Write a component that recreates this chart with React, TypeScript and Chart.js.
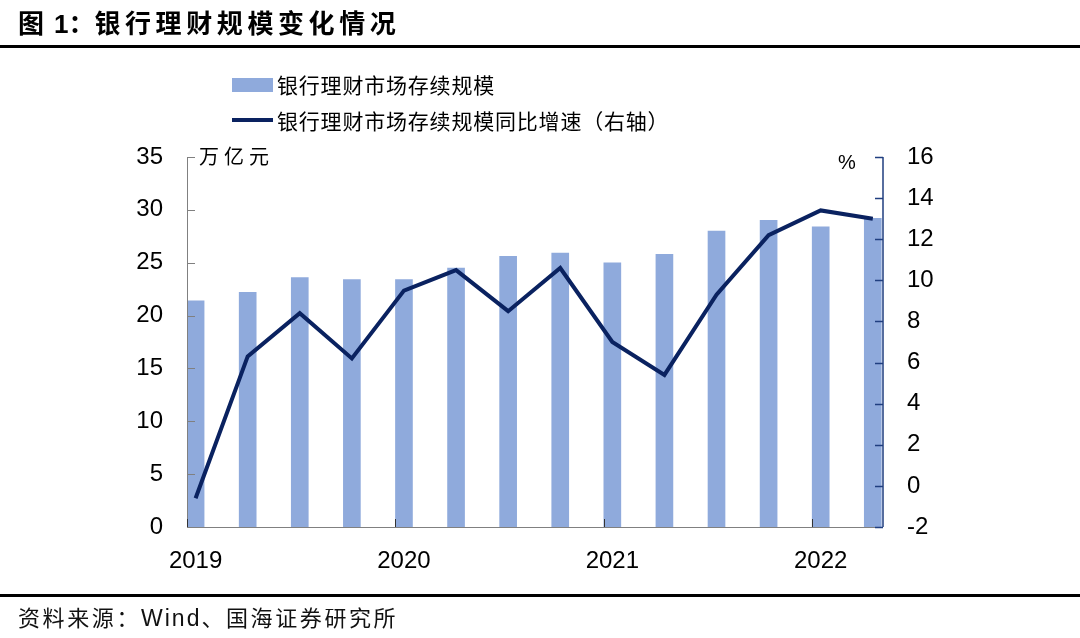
import React, { useEffect, useRef } from 'react';
import { Chart, registerables } from 'chart.js';

Chart.register(...registerables);

// ---- data ----
const quarters = ['2019Q1', '2019Q2', '2019Q3', '2019Q4', '2020Q1', '2020Q2', '2020Q3', '2020Q4', '2021Q1', '2021Q2', '2021Q3', '2021Q4', '2022Q1', '2022Q2'];
const scaleValues = [21.4, 22.2, 23.6, 23.4, 23.4, 24.5, 25.6, 25.9, 25.0, 25.8, 28.0, 29.0, 28.4, 29.2];
const yoyValues = [-0.6, 6.3, 8.4, 6.2, 9.5, 10.5, 8.5, 10.6, 7.0, 5.4, 9.3, 12.2, 13.4, 13.0];
const yearLabels = ['2019', '2020', '2021', '2022'];
const leftAxis = { min: 0, max: 35, step: 5 };
const rightAxis = { min: -2, max: 16, step: 2 };

const barName = '银行理财市场存续规模';
const lineName = '银行理财市场存续规模同比增速（右轴）';

const BAR_COLOR = '#8FAADC';
const LINE_COLOR = '#0A2260';
const RIGHT_AXIS_COLOR = '#203F80';
const GRAY = '#808080';
const TICK_FONT = '"Liberation Sans", Arial, sans-serif';
const CJK_FONT = '"Noto Sans CJK SC", "Liberation Sans", sans-serif';

const X_PAD = 0.165; // axis starts slightly before first bar centre

const axisPlugin = {
  id: 'axisDraw',
  afterDatasetsDraw(chart: any) {
    const { ctx, chartArea, scales } = chart;
    const { left, right, top, bottom } = chartArea;
    const y = scales.y;
    const y1 = scales.y1;
    const x = scales.x;
    ctx.save();
    // left axis
    ctx.strokeStyle = GRAY;
    ctx.lineWidth = 1;
    ctx.beginPath();
    ctx.moveTo(left + 0.5, top);
    ctx.lineTo(left + 0.5, bottom);
    y.ticks.forEach((t: any) => {
      const py = Math.round(y.getPixelForValue(t.value)) + 0.5;
      ctx.moveTo(left, py);
      ctx.lineTo(left + 8, py);
    });
    ctx.stroke();
    // bottom axis
    ctx.strokeStyle = GRAY;
    ctx.beginPath();
    ctx.moveTo(left, bottom + 0.5);
    ctx.lineTo(right, bottom + 0.5);
    ctx.stroke();
    ctx.strokeStyle = '#333333';
    ctx.beginPath();
    x.ticks.forEach((t: any) => {
      const px = Math.round(x.getPixelForValue(t.value - X_PAD)) + 0.5;
      ctx.moveTo(px, bottom);
      ctx.lineTo(px, bottom - 8);
    });
    ctx.stroke();
    // right axis
    ctx.strokeStyle = RIGHT_AXIS_COLOR;
    ctx.lineWidth = 1.5;
    ctx.beginPath();
    ctx.moveTo(right, top);
    ctx.lineTo(right, bottom);
    y1.ticks.forEach((t: any) => {
      const py = Math.round(y1.getPixelForValue(t.value)) + 0.5;
      ctx.moveTo(right - 8, py);
      ctx.lineTo(right, py);
    });
    ctx.stroke();
    ctx.restore();
  },
};

export default function App() {
  const canvasRef = useRef<HTMLCanvasElement | null>(null);

  useEffect(() => {
    document.body.style.margin = '0';
    const canvas = canvasRef.current;
    if (!canvas) return;
    const yearIdx = quarters.map((q, i) => (q.endsWith('Q1') ? i : -1)).filter((i) => i >= 0);
    const chart = new Chart(canvas, {
      type: 'bar',
      data: {
        datasets: [
          {
            type: 'line',
            label: lineName,
            data: yoyValues.map((v, i) => ({ x: i, y: v })),
            yAxisID: 'y1',
            xAxisID: 'x',
            borderColor: LINE_COLOR,
            backgroundColor: LINE_COLOR,
            borderWidth: 4,
            pointRadius: 0,
            tension: 0,
            order: 0,
          } as any,
          {
            type: 'bar',
            label: barName,
            data: scaleValues.map((v, i) => ({ x: i, y: v })),
            yAxisID: 'y',
            xAxisID: 'x',
            backgroundColor: BAR_COLOR,
            borderWidth: 0,
            barThickness: 17,
            order: 1,
          } as any,
        ],
      },
      options: {
        responsive: false,
        animation: false,
        devicePixelRatio: window.devicePixelRatio || 1,
        layout: { padding: { left: 0, right: 0, top: 157, bottom: 61 } },
        plugins: { legend: { display: false }, tooltip: { enabled: false } },
        scales: {
          x: {
            type: 'linear',
            offset: false,
            min: -X_PAD,
            max: quarters.length - 1 + 0.196,
            grid: { display: false },
            border: { display: false },
            afterBuildTicks: (scale: any) => {
              scale.ticks = yearIdx.map((i) => ({ value: i }));
            },
            afterFit: (scale: any) => {
              scale.height = 50;
            },
            ticks: {
              autoSkip: false,
              maxRotation: 0,
              padding: 12,
              color: '#000000',
              font: { family: TICK_FONT, size: 24 },
              callback: (value: any) => {
                const k = yearIdx.indexOf(Math.round(Number(value)));
                return k >= 0 ? yearLabels[k] : '';
              },
            },
          },
          y: {
            type: 'linear',
            position: 'left',
            min: leftAxis.min,
            max: leftAxis.max,
            grid: { display: false },
            border: { display: false },
            afterFit: (scale: any) => {
              scale.width = 187;
            },
            ticks: {
              stepSize: leftAxis.step,
              padding: 16,
              color: '#000000',
              font: { family: TICK_FONT, size: 24 },
            },
          },
          y1: {
            type: 'linear',
            position: 'right',
            min: rightAxis.min,
            max: rightAxis.max,
            grid: { display: false },
            border: { display: false },
            afterFit: (scale: any) => {
              scale.width = 197;
            },
            ticks: {
              stepSize: rightAxis.step,
              padding: 16,
              color: '#000000',
              font: { family: TICK_FONT, size: 24 },
            },
          },
        },
      } as any,
      plugins: [axisPlugin],
    });
    return () => chart.destroy();
  }, []);

  const abs = (o: React.CSSProperties): React.CSSProperties => ({ position: 'absolute', whiteSpace: 'nowrap', ...o });

  return (
    <div style={{ position: 'absolute', left: 0, top: 0, width: 1080, height: 638, background: '#ffffff', overflow: 'hidden' }}>
      <canvas ref={canvasRef} width={1080} height={638} style={{ position: 'absolute', left: 0, top: 0, width: 1080, height: 638 }} />
      {/* title */}
      <div style={abs({ left: 18, top: 5, fontFamily: CJK_FONT, fontWeight: 700, fontSize: 26, lineHeight: '34px', color: '#000' })}>
        <span style={{ letterSpacing: 2 }}>图 </span>
        <span style={{ fontFamily: TICK_FONT }}>1</span>
        <span>：</span>
        <span style={{ letterSpacing: 4.6 }}>银行理财规模变化情况</span>
      </div>
      <div style={abs({ left: 0, top: 45, width: 1080, height: 3, background: '#000' })} />
      {/* legend */}
      <div style={abs({ left: 232, top: 78, width: 41, height: 14, background: BAR_COLOR })} />
      <div style={abs({ left: 277, top: 69, fontFamily: CJK_FONT, fontSize: 21, lineHeight: '30px', letterSpacing: 0.8, color: '#000' })}>{barName}</div>
      <div style={abs({ left: 232, top: 118, width: 41, height: 4, background: LINE_COLOR })} />
      <div style={abs({ left: 277, top: 105, fontFamily: CJK_FONT, fontSize: 21, lineHeight: '30px', letterSpacing: 0.8, color: '#000' })}>{lineName}</div>
      {/* unit labels */}
      <div style={abs({ left: 199, top: 142, fontFamily: CJK_FONT, fontSize: 20, lineHeight: '28px', letterSpacing: 5, color: '#000' })}>万亿元</div>
      <div style={abs({ left: 838, top: 149, fontFamily: TICK_FONT, fontSize: 20, lineHeight: '26px', color: '#000' })}>%</div>
      {/* footer */}
      <div style={abs({ left: 0, top: 594, width: 1080, height: 3, background: '#000' })} />
      <div style={abs({ left: 18, top: 601, fontFamily: CJK_FONT, fontSize: 22, lineHeight: '30px', letterSpacing: 2.6, color: '#111' })}>
        资料来源：<span style={{ fontFamily: TICK_FONT, fontSize: 23, letterSpacing: 2 }}>Wind</span>、国海证券研究所
      </div>
    </div>
  );
}
